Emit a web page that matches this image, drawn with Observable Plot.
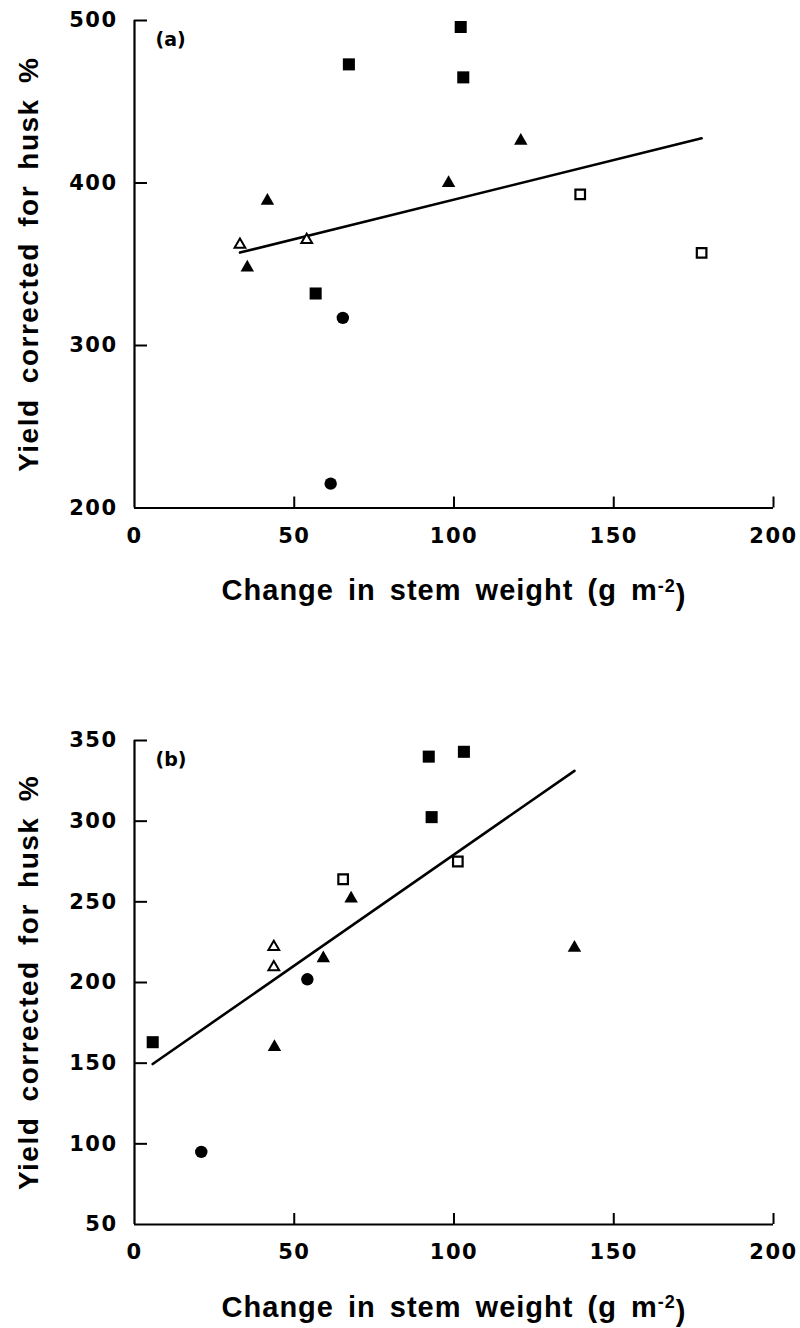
<!DOCTYPE html>
<html>
<head>
<meta charset="utf-8">
<script src="https://cdn.jsdelivr.net/npm/d3@7"></script>
<script src="https://cdn.jsdelivr.net/npm/@observablehq/plot@0.6"></script>
<style>
  html, body { margin: 0; padding: 0; background: #fff; }
  #chart { width: 800px; }
  #chart svg { display: block; }
</style>
</head>
<body>
<div id="chart"></div>
<script>
// ---------- data ----------
const groupNames = ["filled square", "open square", "filled circle", "filled triangle", "open triangle"];

const xTicks = [0, 50, 100, 150, 200];
const aYTicks = [200, 300, 400, 500];
const bYTicks = [50, 100, 150, 200, 250, 300, 350];

const xTitle = "Change in stem weight (g m";
const xTitleSup = "-2";
const yTitle = "Yield corrected for husk %";

// panel (a)
const aStem  = [67.1, 102.1, 102.9, 56.7, 139.5, 177.5, 65.2, 61.4, 41.6, 35.3, 98.3, 120.9, 33.0, 53.9];
const aYield = [473, 496, 465, 332, 393, 357, 317, 215, 389, 348, 400, 426, 362, 365];
const aGroup = ["filled square", "filled square", "filled square", "filled square",
                "open square", "open square",
                "filled circle", "filled circle",
                "filled triangle", "filled triangle", "filled triangle", "filled triangle",
                "open triangle", "open triangle"];

// panel (b)
const bStem  = [5.7, 92.1, 93.0, 103.1, 65.3, 101.2, 20.9, 54.1, 43.8, 59.1, 67.8, 137.7, 43.6, 43.6];
const bYield = [163, 340, 302.5, 343, 264, 275, 95, 202, 160, 215, 252, 221.5, 222, 209.5];
const bGroup = ["filled square", "filled square", "filled square", "filled square",
                "open square", "open square",
                "filled circle", "filled circle",
                "filled triangle", "filled triangle", "filled triangle", "filled triangle",
                "open triangle", "open triangle"];

// ---------- styles ----------
const symbolStyle = {
  "filled square":   {symbol: "square",   fill: "black", stroke: "none", r: 6.8},
  "open square":     {symbol: "square",   fill: "white", stroke: "black", strokeWidth: 2.2, r: 5.4},
  "filled circle":   {symbol: "circle",   fill: "black", stroke: "none", r: 6.2},
  "filled triangle": {symbol: "triangle", fill: "black", stroke: "none", r: 5},
  "open triangle":   {symbol: "triangle", fill: "white", stroke: "black", strokeWidth: 2, r: 4}
};

const TICK_FONT = "DejaVu Sans";
const TITLE_FONT = "Liberation Sans";

function panel({stem, yld, grp, yTicks, tag, height, marginTop, marginBottom}) {
  const data = stem.map((x, i) => ({x, y: yld[i], g: grp[i]}));
  const yDomain = [yTicks[0], yTicks[yTicks.length - 1]];
  const svg = Plot.plot({
    width: 800,
    height,
    marginLeft: 134,
    marginRight: 27,
    marginTop,
    marginBottom,
    style: {background: "white", color: "black", fontFamily: TICK_FONT, overflow: "visible"},
    x: {domain: [xTicks[0], xTicks[xTicks.length - 1]]},
    y: {domain: yDomain},
    marks: [
      // inward tick marks
      Plot.axisX({ticks: xTicks.slice(1), tickSize: -11, tickFormat: () => "", fill: "none", strokeWidth: 2, label: null}),
      Plot.axisY({ticks: yTicks.slice(1), tickSize: -13, tickFormat: () => "", fill: "none", strokeWidth: 2, label: null}),
      // tick labels
      Plot.axisX({ticks: xTicks, tickSize: 0, tickPadding: 20, label: null, fontSize: 21, fontWeight: "bold"}),
      Plot.axisY({ticks: yTicks, tickSize: 0, tickPadding: 17, label: null, fontSize: 21, fontWeight: "bold"}),
      // axis lines
      Plot.ruleX([xTicks[0]], {strokeWidth: 2.2}),
      Plot.ruleY([yDomain[0]], {strokeWidth: 2.2}),
      // regression line
      Plot.linearRegressionY(data, {x: "x", y: "y", ci: 0, stroke: "black", strokeWidth: 2.6}),
      // points
      ...groupNames.map(g => Plot.dot(data.filter(d => d.g === g), {x: "x", y: "y", ...symbolStyle[g]})),
      // panel tag
      Plot.text([tag], {frameAnchor: "top-left", dx: 21, dy: 12, lineAnchor: "top", textAnchor: "start",
                        fontSize: 19, fontWeight: "bold", fontFamily: TICK_FONT}),
      // axis titles
      Plot.text([xTitle], {frameAnchor: "bottom", lineAnchor: "bottom", dy: 92, textAnchor: "middle",
                           fontSize: 29, fontWeight: "bold", fontFamily: TITLE_FONT}),
      Plot.text([yTitle], {frameAnchor: "left", rotate: -90, lineAnchor: "bottom", textAnchor: "middle", dx: -97,
                           fontSize: 28, fontWeight: "bold", fontFamily: TITLE_FONT})
    ]
  });
  const s = d3.select(svg);
  s.selectAll('g[aria-label="x-axis tick label"] text, g[aria-label="y-axis tick label"] text')
    .style("font-size", "21px")
    .style("font-weight", "bold")
    .style("letter-spacing", "1.5px");
  s.selectAll("text").each(function() {
    const t = d3.select(this);
    if (this.textContent === xTitle) {
      t.style("letter-spacing", "1px").style("word-spacing", "5px");
      t.text(null);
      t.append("tspan").text(xTitle);
      t.append("tspan").attr("dy", "-0.45em").attr("font-size", "18px").text(xTitleSup);
      t.append("tspan").attr("dy", "0.45em").text(")");
    } else if (this.textContent === yTitle) {
      t.style("letter-spacing", "1.5px").style("word-spacing", "6px");
    }
  });
  return svg;
}

const chart = document.getElementById("chart");
chart.appendChild(panel({stem: aStem, yld: aYield, grp: aGroup, yTicks: aYTicks, tag: "(a)",
                         height: 660, marginTop: 20, marginBottom: 152.5}));
chart.appendChild(panel({stem: bStem, yld: bYield, grp: bGroup, yTicks: bYTicks, tag: "(b)",
                         height: 668, marginTop: 80, marginBottom: 104}));
</script>
</body>
</html>
